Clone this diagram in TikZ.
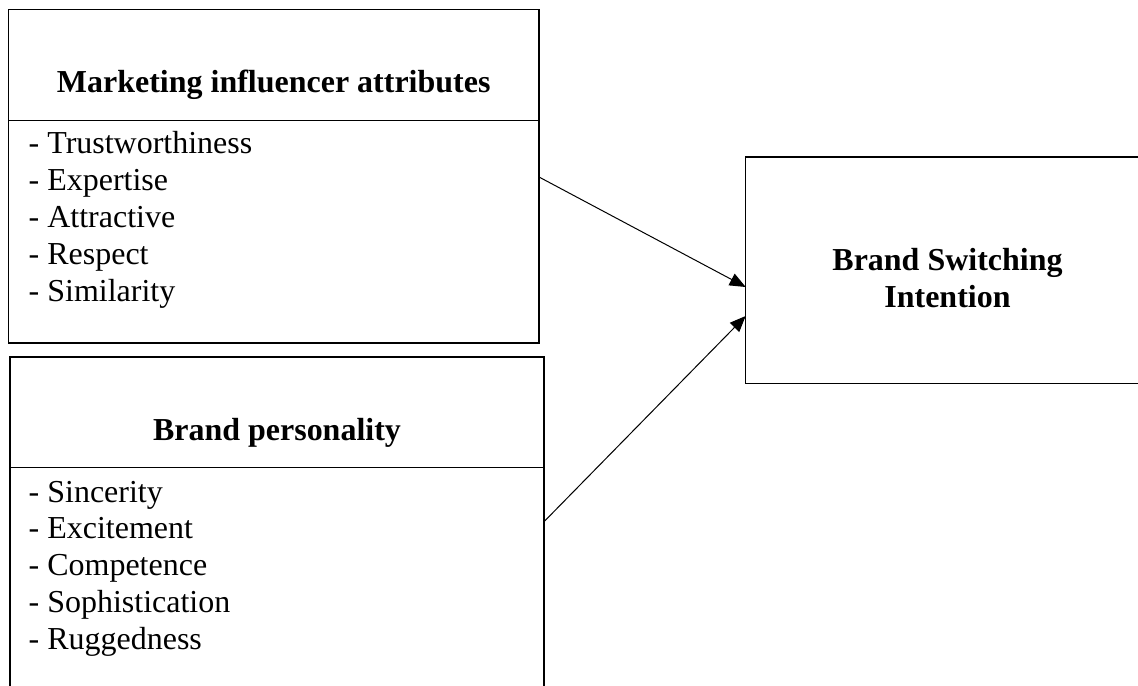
\documentclass[tikz,border=0pt]{standalone}
\usepackage{fontspec}
\setmainfont{Liberation Serif}
\usetikzlibrary{arrows.meta}
\begin{document}
\begin{tikzpicture}[x=1bp,y=-1bp,
  box/.style={draw,line width=1.1bp,rectangle,inner sep=0,outer sep=0,anchor=north west},
  ttl/.style={font=\fontsize{32.1pt}{37pt}\selectfont\bfseries,inner sep=0,anchor=base},
  itm/.style={font=\fontsize{32.1pt}{37pt}\selectfont,inner sep=0,anchor=base west},
  arr/.style={line width=1bp,-{Triangle[length=16bp,width=13bp]}},
  div/.style={line width=1.1bp}]
\clip (0,0) rectangle (1138,686);
\useasboundingbox (0,0) rectangle (1138,686);
% top box
\node[box,minimum width=530.7bp,minimum height=333.5bp] (mia) at (8.3,9.5) {};
\draw[div] (mia.west |- 0,120.7) -- (mia.east |- 0,120.7);
\node[ttl] (miat) at (273.7,93) {Marketing influencer attributes};
\node[itm] (m1) at (28.5,154) {- Trustworthiness};
\node[itm] (m2) at (28.5,190.8) {- Expertise};
\node[itm] (m3) at (28.5,227.6) {- Attractive};
\node[itm] (m4) at (28.5,264.4) {- Respect};
\node[itm] (m5) at (28.5,301.2) {- Similarity};
% bottom box
\node[box,minimum width=534bp,minimum height=360bp] (bp) at (10,357) {};
\draw[div] (bp.west |- 0,467.7) -- (bp.east |- 0,467.7);
\node[ttl] (bpt) at (277,440) {Brand personality};
\node[itm] (b1) at (28.5,502) {- Sincerity};
\node[itm] (b2) at (28.5,538.8) {- Excitement};
\node[itm] (b3) at (28.5,575.6) {- Competence};
\node[itm] (b4) at (28.5,612.4) {- Sophistication};
\node[itm] (b5) at (28.5,649.2) {- Ruggedness};
% right box
\node[box,minimum width=420bp,minimum height=226.3bp] (bsi) at (745.7,157) {};
\node[ttl] (bsi1) at (947.5,270) {Brand Switching};
\node[ttl] (bsi2) at (947.5,307) {Intention};
% arrows
\draw[arr] (mia.east |- 0,177) -- (bsi.west |- 0,287);
\draw[arr] (bp.east |- 0,521.7) -- (bsi.west |- 0,316);
\end{tikzpicture}
\end{document}
